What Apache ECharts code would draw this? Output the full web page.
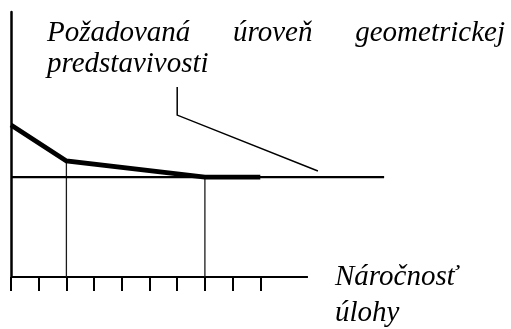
<!DOCTYPE html>
<html>
<head>
<meta charset="utf-8">
<script src="https://cdn.jsdelivr.net/npm/echarts@6/dist/echarts.min.js"></script>
<style>
  html, body { margin: 0; padding: 0; background: #fff; }
  #chart { width: 511px; height: 329px; }
</style>
</head>
<body>
<div id="chart"></div>
<script>
// Task difficulty steps along the horizontal axis (tick marks)
const tickPositions = [0, 1, 2, 3, 4, 5, 6, 7, 8, 9];
// Required level of geometric imagination (horizontal reference)
const requiredLevel = 3.77;
const requiredLevelSpan = [0, 13.47];
// Actual curve: difficulty step -> level
const curveX = [0, 2, 7, 9];
const curveY = [5.74, 4.38, 3.77, 3.77];
// Drop lines from the curve's break points to the axis
const dropX = [2, 7];
// Leader line from the caption to the reference level
const leaderX = [6, 6, 11.08];
const leaderY = [7.17, 6.11, 4.0];
// Horizontal axis line extent
const axisEnd = 10.72;

const captionWords = ['Požadovaná', 'úroveň', 'geometrickej'];
const captionLine2 = 'predstavivosti';
const axisTitle = ['Náročnosť', 'úlohy'];

const FONT = 'italic 29px "Liberation Serif", "Times New Roman", serif';

const chart = echarts.init(document.getElementById('chart'), null, { renderer: 'canvas' });

const lineSeries = (data, width, color) => ({
  type: 'line',
  data: data,
  showSymbol: false,
  symbol: 'none',
  clip: false,
  silent: true,
  animation: false,
  lineStyle: { color: color || '#000', width: width, cap: 'butt', join: 'miter' }
});

const series = [];
// horizontal axis line
series.push(lineSeries([[0, 0], [axisEnd, 0]], 2));
// drop lines
dropX.forEach(x => {
  const i = curveX.indexOf(x);
  series.push(lineSeries([[x, 0], [x, curveY[i]]], 1.3, '#1a1a1a'));
});
// required level
series.push(lineSeries([[requiredLevelSpan[0], requiredLevel], [requiredLevelSpan[1], requiredLevel]], 2.3));
// actual curve
series.push(lineSeries(curveX.map((x, i) => [x, curveY[i]]), 4.8));
// leader
series.push(lineSeries(leaderX.map((x, i) => [x, leaderY[i]]), 1.5));

chart.setOption({
  animation: false,
  backgroundColor: '#fff',
  grid: { left: 11, right: 112.2, top: 12, bottom: 52, containLabel: false },
  xAxis: {
    type: 'value', min: 0, max: 14,
    axisLine: { show: false },
    splitLine: { show: false },
    axisLabel: { show: false },
    axisTick: {
      show: true, inside: false, length: 14,
      customValues: tickPositions,
      lineStyle: { color: '#000', width: 2 }
    }
  },
  yAxis: {
    type: 'value', min: 0, max: 10,
    axisLine: { show: true, lineStyle: { color: '#000', width: 2.5 } },
    axisTick: { show: false },
    axisLabel: { show: false },
    splitLine: { show: false }
  },
  series: series,
  graphic: [
    { type: 'text', left: 47, top: 19, style: { text: captionWords[0], font: FONT, fill: '#000' } },
    { type: 'text', left: 233, top: 19, style: { text: captionWords[1], font: FONT, fill: '#000' } },
    { type: 'text', right: 6, top: 19, style: { text: captionWords[2], font: FONT, fill: '#000' } },
    { type: 'text', left: 47, top: 50, style: { text: captionLine2, font: FONT, fill: '#000' } },
    { type: 'text', left: 335, top: 263, style: { text: axisTitle[0], font: FONT, fill: '#000' } },
    { type: 'text', left: 335, top: 299, style: { text: axisTitle[1], font: FONT, fill: '#000' } }
  ]
});
</script>
</body>
</html>
